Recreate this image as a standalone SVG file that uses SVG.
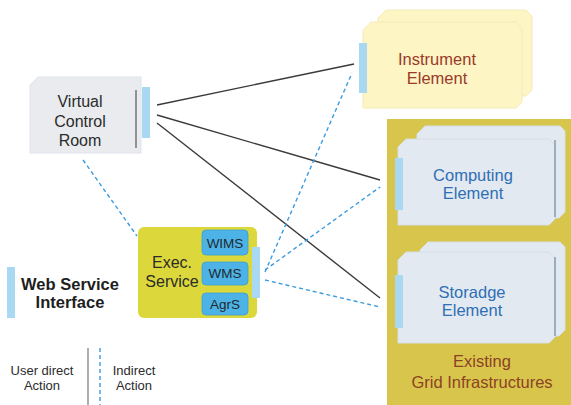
<svg xmlns="http://www.w3.org/2000/svg" width="571" height="405" viewBox="0 0 571 405">
  <style>
    text { font-family: "Liberation Sans", Arial, sans-serif; text-anchor: middle; }
    .lbl { font-size: 16px; fill: #2b2b2b; }
    .inst { font-size: 16.5px; fill: #9a3a2a; }
    .blue { font-size: 16.5px; fill: #2e6fb5; }
    .grid { font-size: 16.5px; fill: #8c4226; }
    .svc { font-size: 13.5px; fill: #1e2a30; }
    .bold { font-size: 16.5px; font-weight: bold; fill: #1e1e1e; }
    .small { font-size: 13px; fill: #2b2b2b; }
    .bar { fill: #a9d8f2; }
    .solid { stroke: #3a3a3a; stroke-width: 1.4; fill: none; }
    .dash { stroke: #3c9be0; stroke-width: 1.4; fill: none; stroke-dasharray: 4 3; }
    .card-y { fill: #fdf5c4; stroke: #f3ebb8; stroke-width: 1; }
    .card-b { fill: #e3e9f0; stroke: #d6dee8; stroke-width: 1; }
    .edge { stroke: #6f8aa3; stroke-width: 1.2; }
    .sub { fill: #4db3e6; stroke: #3a9fd4; stroke-width: 0.8; }
  </style>

  <rect width="571" height="405" fill="#ffffff"/>

  <!-- Grid infrastructure container -->
  <g id="grid-infrastructures">
    <rect x="387" y="119" width="190" height="292" fill="#d8c64c"/>
    <text class="grid" x="482" y="367">Existing</text>
    <text class="grid" x="482" y="388">Grid Infrastructures</text>
  </g>

  <!-- Virtual Control Room -->
  <g id="virtual-control-room">
    <path d="M38,77 H141 V153 H30 V85 Z" fill="#e9ebef" stroke="#dfe3ea"/>
    <line x1="136" y1="90" x2="136" y2="148" stroke="#555" stroke-width="1.2"/>
    <rect class="bar" x="142" y="87" width="8" height="51"/>
    <text class="lbl" x="80" y="107">Virtual</text>
    <text class="lbl" x="80" y="127">Control</text>
    <text class="lbl" x="80" y="146">Room</text>
  </g>

  <!-- Instrument Element -->
  <g id="instrument-element">
    <path class="card-y" d="M386,10 H526 L532,16 V90 L526,96 H378 V18 Z"/>
    <path class="card-y" d="M371,22 H516 L522,28 V102 L516,108 H363 V30 Z"/>
    <rect class="bar" x="359" y="43" width="8" height="50"/>
    <text class="inst" x="437" y="65">Instrument</text>
    <text class="inst" x="437" y="84">Element</text>
  </g>

  <!-- Computing Element -->
  <g id="computing-element">
    <path class="card-b" d="M425,126 H560 L565,131 V212 L559,218 H417 V134 Z"/>
    <path class="card-b" d="M406,139 H549 L555,145 V219 L549,225 H398 V147 Z"/>
    <line class="edge" x1="555" y1="140" x2="555" y2="217"/>
    <rect class="bar" x="395" y="158" width="8" height="52"/>
    <text class="blue" x="473" y="181">Computing</text>
    <text class="blue" x="473" y="199">Element</text>
  </g>

  <!-- Storage Element -->
  <g id="storage-element">
    <path class="card-b" d="M428,242 H560 L565,247 V330 L559,336 H420 V250 Z"/>
    <path class="card-b" d="M406,252 H549 L555,258 V337 L549,343 H398 V260 Z"/>
    <line class="edge" x1="555" y1="257" x2="555" y2="336"/>
    <rect class="bar" x="395" y="275" width="8" height="53"/>
    <text class="blue" x="472" y="298">Storadge</text>
    <text class="blue" x="472" y="316">Element</text>
  </g>

  <!-- Execution service -->
  <g id="exec-service">
    <rect x="138" y="227" width="119" height="91" rx="6" fill="#dcd83b"/>
    <rect class="bar" x="252" y="247" width="8" height="51"/>
    <text class="lbl" x="172" y="268">Exec.</text>
    <text class="lbl" x="172" y="287">Service</text>
    <rect class="sub" x="202" y="230" width="46" height="25" rx="4"/>
    <text class="svc" x="225" y="248">WIMS</text>
    <rect class="sub" x="202" y="262" width="46" height="23" rx="4"/>
    <text class="svc" x="225" y="278">WMS</text>
    <rect class="sub" x="202" y="293" width="46" height="22" rx="4"/>
    <text class="svc" x="225" y="309">AgrS</text>
  </g>

  <!-- Web Service Interface key -->
  <g id="web-service-interface">
    <rect class="bar" x="7" y="267" width="8" height="51"/>
    <text class="bold" x="70" y="290">Web Service</text>
    <text class="bold" x="70" y="308">Interface</text>
  </g>

  <!-- Line style key -->
  <g id="legend">
    <text class="small" x="42" y="375">User direct</text>
    <text class="small" x="42" y="390">Action</text>
    <line x1="88" y1="348" x2="88" y2="405" stroke="#777" stroke-width="1.2"/>
    <line class="dash" x1="100" y1="348" x2="100" y2="405"/>
    <text class="small" x="134" y="375">Indirect</text>
    <text class="small" x="134" y="390">Action</text>
  </g>

  <!-- Connectors -->
  <g id="connectors">
    <line class="solid" x1="157" y1="105" x2="354" y2="64"/>
    <line class="solid" x1="157" y1="115" x2="380" y2="180"/>
    <line class="solid" x1="157" y1="123" x2="380" y2="298"/>
    <line class="dash" x1="83" y1="160" x2="137" y2="236"/>
    <line class="dash" x1="265" y1="272" x2="352" y2="73"/>
    <line class="dash" x1="265" y1="270" x2="380" y2="187"/>
    <line class="dash" x1="265" y1="280" x2="380" y2="307"/>
  </g>
</svg>
